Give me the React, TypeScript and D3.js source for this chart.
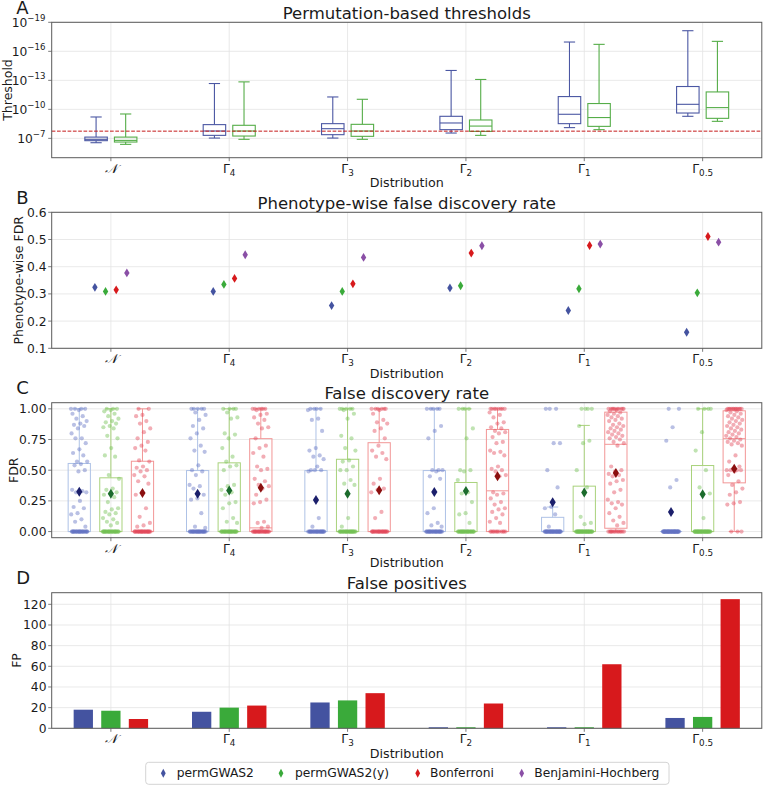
import React from "react";
import * as d3 from "d3";

const W = 763;
const H = 785;
const FONT = "'DejaVu Sans', Verdana, sans-serif";

// ---------- categories / methods ----------
const catBase = ["𝒩", "Γ", "Γ", "Γ", "Γ", "Γ"];
const catSub = ["", "4", "3", "2", "1", "0.5"];
const methods = ["permGWAS2", "permGWAS2(y)", "Bonferroni", "Benjamini-Hochberg"];
const methodColors = ["#4453a0", "#3aaa3a", "#d7191c", "#8a4fa6"];
const boxColorsA = ["#4b57a3", "#55ad48"];
const boxColorsC = ["#aec2e6", "#a9d27c", "#f29696"];
const pointColorsC = ["#6474c4", "#74c254", "#e24a5a"];
const meanColorsC = ["#1b1f6b", "#1b6b2c", "#8b0f0f"];

// ---------- Panel A: permutation thresholds (log10 values) ----------
// order: whisker at smallest value, q1, median, q3, whisker at largest value
const thrPermMin = [-9.21, -12.67, -11.28, -14.02, -16.96, -18.13];
const thrPermQ1 = [-7.13, -8.42, -8.52, -9.28, -11.32, -12.36];
const thrPermMed = [-6.9, -7.76, -8.0, -8.59, -9.49, -10.52];
const thrPermQ3 = [-6.76, -7.31, -7.38, -7.9, -8.52, -9.62];
const thrPermMax = [-6.55, -7.03, -7.03, -7.55, -8.11, -9.28];

const thrPermYMin = [-9.52, -12.84, -11.04, -13.09, -16.72, -17.03];
const thrPermYQ1 = [-7.13, -8.35, -8.45, -8.9, -10.6, -11.8];
const thrPermYMed = [-6.79, -7.76, -7.76, -8.27, -9.15, -10.18];
const thrPermYQ3 = [-6.62, -7.24, -7.21, -7.72, -8.24, -9.07];
const thrPermYMax = [-6.38, -6.9, -6.9, -7.31, -7.9, -8.76];

const bonferroniThreshold = 1.8e-8;
const thrTickExps = [-19, -16, -13, -10, -7];

// ---------- Panel B: phenotype-wise FDR ----------
const pwFdrPerm = [0.324, 0.309, 0.257, 0.322, 0.239, 0.159];
const pwFdrPermY = [0.309, 0.335, 0.309, 0.33, 0.319, 0.304];
const pwFdrBonf = [0.315, 0.357, 0.337, 0.45, 0.478, 0.511];
const pwFdrBH = [0.377, 0.444, 0.434, 0.477, 0.483, 0.49];
const bTicks = [0.1, 0.2, 0.3, 0.4, 0.5, 0.6];

// ---------- Panel C: FDR per phenotype ----------
// box stats: q1, median, q3, lower whisker, upper whisker
const fdrPermQ1 = [0, 0, 0, 0, 0, 0];
const fdrPermMed = [0, 0, 0, 0, 0, 0];
const fdrPermQ3 = [0.555, 0.497, 0.497, 0.497, 0.116, 0];
const fdrPermLo = [0, 0, 0, 0, 0, 0];
const fdrPermHi = [1, 1, 1, 1, 0.2, 0];

const fdrPermYQ1 = [0, 0, 0, 0, 0, 0];
const fdrPermYMed = [0, 0, 0, 0, 0, 0];
const fdrPermYQ3 = [0.438, 0.56, 0.589, 0.4, 0.37, 0.538];
const fdrPermYLo = [0, 0, 0, 0, 0, 0];
const fdrPermYHi = [1, 1, 1, 1, 0.865, 1];

const fdrBonfQ1 = [0, 0, 0, 0, 0.027, 0.397];
const fdrBonfMed = [0, 0.03, 0, 0.332, 0.711, 0.757];
const fdrBonfQ3 = [0.573, 0.757, 0.724, 0.832, 0.973, 0.984];
const fdrBonfLo = [0, 0, 0, 0, 0, 0];
const fdrBonfHi = [1, 1, 1, 1, 1, 1];

// per-phenotype FDR points
const fdrPtsPermN = [1, 1, 1, 1, 0.99, 0.96, 0.94, 0.92, 0.9, 0.88, 0.87, 0.86, 0.84, 0.8, 0.76, 0.76, 0.72, 0.67, 0.64, 0.62, 0.57, 0.57, 0.55, 0.54, 0.5, 0.49, 0.34, 0.33, 0.32, 0.32, 0.25, 0.2, 0.19, 0.15, 0.14, 0.1, 0.08, 0.04, 0, 0, 0, 0, 0, 0, 0, 0, 0, 0, 0, 0, 0, 0, 0, 0, 0, 0, 0, 0, 0, 0, 0, 0, 0, 0, 0, 0];
const fdrPtsPermYN = [1, 1, 1, 0.99, 0.98, 0.96, 0.94, 0.92, 0.9, 0.89, 0.88, 0.86, 0.85, 0.84, 0.78, 0.76, 0.68, 0.62, 0.61, 0.46, 0.43, 0.35, 0.34, 0.32, 0.31, 0.3, 0.28, 0.24, 0.19, 0.18, 0.16, 0.15, 0.14, 0.11, 0.1, 0.08, 0.07, 0.05, 0, 0, 0, 0, 0, 0, 0, 0, 0, 0, 0, 0, 0, 0, 0, 0, 0, 0, 0, 0, 0, 0, 0, 0, 0, 0, 0, 0, 0, 0];
const fdrPtsBonfN = [1, 1, 0.95, 0.94, 0.9, 0.88, 0.84, 0.81, 0.76, 0.73, 0.7, 0.68, 0.66, 0.58, 0.57, 0.53, 0.52, 0.5, 0.49, 0.46, 0.45, 0.41, 0.39, 0.32, 0.3, 0.19, 0.12, 0.07, 0.05, 0.04, 0, 0, 0, 0, 0, 0, 0, 0, 0, 0, 0, 0, 0, 0, 0, 0, 0, 0, 0, 0, 0, 0, 0, 0, 0, 0, 0, 0];

const fdrPtsPermG4 = [1, 1, 1, 1, 1, 0.97, 0.95, 0.91, 0.86, 0.84, 0.8, 0.76, 0.7, 0.66, 0.65, 0.54, 0.5, 0.49, 0.46, 0.38, 0.37, 0.35, 0.3, 0.27, 0.26, 0.15, 0.04, 0.03, 0, 0, 0, 0, 0, 0, 0, 0, 0, 0, 0, 0, 0, 0, 0, 0, 0, 0, 0, 0, 0, 0, 0, 0, 0, 0, 0, 0, 0, 0];
const fdrPtsPermYG4 = [1, 1, 1, 1, 0.97, 0.93, 0.92, 0.8, 0.79, 0.76, 0.68, 0.61, 0.57, 0.54, 0.53, 0.5, 0.38, 0.37, 0.34, 0.32, 0.3, 0.24, 0.23, 0.19, 0.11, 0.08, 0.07, 0, 0, 0, 0, 0, 0, 0, 0, 0, 0, 0, 0, 0, 0, 0, 0, 0, 0, 0, 0, 0, 0, 0, 0, 0, 0, 0, 0, 0, 0];
const fdrPtsBonfG4 = [1, 1, 1, 1, 1, 1, 0.99, 0.96, 0.95, 0.93, 0.91, 0.88, 0.85, 0.84, 0.76, 0.7, 0.68, 0.64, 0.61, 0.53, 0.51, 0.5, 0.43, 0.41, 0.38, 0.37, 0.35, 0.3, 0.26, 0.24, 0.23, 0.08, 0.07, 0.04, 0.03, 0, 0, 0, 0, 0, 0, 0, 0, 0, 0, 0, 0, 0, 0, 0, 0, 0, 0, 0, 0, 0, 0, 0, 0, 0];

const fdrPtsPermG3 = [1, 1, 1, 1, 0.99, 0.92, 0.91, 0.82, 0.68, 0.66, 0.62, 0.61, 0.59, 0.53, 0.5, 0.5, 0.5, 0.49, 0.11, 0.04, 0, 0, 0, 0, 0, 0, 0, 0, 0, 0, 0, 0, 0, 0, 0, 0, 0, 0, 0, 0, 0, 0, 0, 0, 0, 0, 0, 0, 0, 0];
const fdrPtsPermYG3 = [1, 1, 1, 1, 1, 0.99, 0.96, 0.92, 0.78, 0.76, 0.68, 0.66, 0.58, 0.57, 0.53, 0.5, 0.5, 0.42, 0.39, 0.38, 0.11, 0.04, 0, 0, 0, 0, 0, 0, 0, 0, 0, 0, 0, 0, 0, 0, 0, 0, 0, 0, 0, 0, 0, 0, 0, 0, 0, 0, 0, 0, 0, 0];
const fdrPtsBonfG3 = [1, 1, 1, 1, 1, 1, 0.99, 0.96, 0.91, 0.89, 0.88, 0.84, 0.82, 0.76, 0.7, 0.66, 0.64, 0.61, 0.59, 0.43, 0.39, 0.35, 0.34, 0.32, 0.16, 0.11, 0, 0, 0, 0, 0, 0, 0, 0, 0, 0, 0, 0, 0, 0, 0, 0, 0, 0, 0, 0, 0, 0, 0, 0, 0];

const fdrPtsPermG2 = [1, 1, 1, 1, 1, 0.86, 0.82, 0.76, 0.5, 0.5, 0.5, 0.49, 0.45, 0.43, 0.19, 0.15, 0.07, 0.05, 0.04, 0, 0, 0, 0, 0, 0, 0, 0, 0, 0, 0, 0, 0, 0, 0, 0, 0, 0, 0, 0, 0, 0, 0, 0, 0, 0, 0, 0, 0];
const fdrPtsPermYG2 = [1, 1, 1, 1, 0.84, 0.76, 0.5, 0.5, 0.49, 0.42, 0.32, 0.31, 0.24, 0.15, 0.14, 0.07, 0, 0, 0, 0, 0, 0, 0, 0, 0, 0, 0, 0, 0, 0, 0, 0, 0, 0, 0, 0, 0, 0, 0, 0, 0, 0, 0, 0, 0, 0];
const fdrPtsBonfG2 = [1, 1, 1, 1, 1, 1, 1, 1, 0.97, 0.95, 0.93, 0.89, 0.88, 0.85, 0.84, 0.82, 0.81, 0.8, 0.77, 0.73, 0.72, 0.66, 0.65, 0.64, 0.62, 0.53, 0.51, 0.5, 0.49, 0.46, 0.45, 0.32, 0.31, 0.3, 0.27, 0.24, 0.22, 0.19, 0.18, 0.16, 0.14, 0.11, 0.08, 0.07, 0, 0, 0, 0, 0, 0, 0, 0, 0, 0, 0, 0];

const fdrPtsPermG1 = [1, 1, 1, 0.72, 0.72, 0.5, 0.36, 0.2, 0.19, 0.14, 0.04, 0, 0, 0, 0, 0, 0, 0, 0, 0, 0, 0, 0, 0, 0, 0, 0, 0, 0, 0, 0, 0, 0, 0, 0, 0, 0, 0, 0, 0, 0, 0, 0, 0, 0, 0, 0, 0, 0, 0, 0];
const fdrPtsPermYG1 = [1, 1, 1, 1, 0.86, 0.74, 0.72, 0.5, 0.36, 0.12, 0.07, 0.06, 0, 0, 0, 0, 0, 0, 0, 0, 0, 0, 0, 0, 0, 0, 0, 0, 0, 0, 0, 0, 0, 0, 0, 0, 0, 0, 0, 0, 0, 0, 0, 0, 0, 0, 0, 0, 0, 0, 0, 0];
const fdrPtsBonfG1 = [1, 1, 1, 1, 1, 1, 1, 1, 1, 1, 0.99, 0.98, 0.97, 0.96, 0.95, 0.94, 0.93, 0.92, 0.91, 0.9, 0.88, 0.87, 0.86, 0.85, 0.84, 0.83, 0.82, 0.81, 0.8, 0.79, 0.78, 0.77, 0.76, 0.75, 0.73, 0.72, 0.7, 0.53, 0.5, 0.49, 0.47, 0.46, 0.45, 0.42, 0.41, 0.39, 0.34, 0.32, 0.26, 0.24, 0.23, 0.22, 0.19, 0.15, 0.12, 0.09, 0.07, 0.05, 0, 0, 0, 0, 0, 0, 0, 0, 0, 0, 0, 0, 0, 0];

const fdrPtsPermG05 = [1, 1, 0.85, 0.74, 0.42, 0.36, 0, 0, 0, 0, 0, 0, 0, 0, 0, 0, 0, 0, 0, 0, 0, 0, 0, 0, 0, 0, 0, 0, 0, 0, 0, 0, 0, 0, 0, 0, 0, 0, 0, 0, 0, 0, 0, 0, 0, 0, 0, 0, 0, 0, 0, 0, 0, 0, 0, 0];
const fdrPtsPermYG05 = [1, 1, 1, 1, 0.81, 0.66, 0.5, 0.36, 0.31, 0.11, 0, 0, 0, 0, 0, 0, 0, 0, 0, 0, 0, 0, 0, 0, 0, 0, 0, 0, 0, 0, 0, 0, 0, 0, 0, 0, 0, 0, 0, 0, 0, 0, 0, 0, 0, 0, 0, 0, 0, 0];
const fdrPtsBonfG05 = [1, 1, 1, 1, 1, 1, 1, 1, 1, 1, 1, 1, 0.99, 0.98, 0.97, 0.96, 0.95, 0.94, 0.93, 0.92, 0.91, 0.9, 0.89, 0.88, 0.87, 0.86, 0.85, 0.84, 0.83, 0.82, 0.81, 0.8, 0.79, 0.78, 0.77, 0.76, 0.75, 0.74, 0.73, 0.72, 0.71, 0.7, 0.62, 0.57, 0.53, 0.51, 0.5, 0.5, 0.5, 0.5, 0.49, 0.46, 0.41, 0.38, 0.35, 0.32, 0.3, 0.24, 0.23, 0.22, 0, 0, 0];

const fdrPtsPerm = [fdrPtsPermN, fdrPtsPermG4, fdrPtsPermG3, fdrPtsPermG2, fdrPtsPermG1, fdrPtsPermG05];
const fdrPtsPermY = [fdrPtsPermYN, fdrPtsPermYG4, fdrPtsPermYG3, fdrPtsPermYG2, fdrPtsPermYG1, fdrPtsPermYG05];
const fdrPtsBonf = [fdrPtsBonfN, fdrPtsBonfG4, fdrPtsBonfG3, fdrPtsBonfG2, fdrPtsBonfG1, fdrPtsBonfG05];
const cTicks = [0, 0.25, 0.5, 0.75, 1.0];

// ---------- Panel D: false positives ----------
const fpPerm = [18, 16, 25, 1, 1, 10];
const fpPermY = [17, 20, 27, 1, 1, 11];
const fpBonf = [9, 22, 34, 24, 62, 125];
const dTicks = [0, 20, 40, 60, 80, 100, 120];

// ---------- layout ----------
const PL = 51.7;
const PR = 761.8;
const PCX = (PL + PR) / 2;
const A = { top: 22.3, bottom: 157.7 };
const B = { top: 212.3, bottom: 348.3 };
const C = { top: 402.7, bottom: 537.7 };
const D = { top: 592.7, bottom: 728.3 };

const xS = d3.scaleLinear().domain([-0.5, 5.5]).range([PL, PR]);
const yA = d3.scaleLog().domain([1e-5, 1e-19]).range([A.bottom, A.top]);
const yB = d3.scaleLinear().domain([0.1, 0.6]).range([B.bottom, B.top]);
const yC = d3.scaleLinear().domain([-0.05, 1.05]).range([C.bottom, C.top]);
const yD = d3.scaleLinear().domain([0, 131.25]).range([D.bottom, D.top]);

const GRID = "#e3e3e3";
const SPINE = "#5a5a5a";
const TXT = "#1a1a1a";

const jitter = (i: number, g: number) => (((i * 0.6180339887 + g * 0.2718) % 1) - 0.5) * 2;

const diamondPath = (w: number, h: number) => `M0,${-h}L${w},0L0,${h}L${-w},0Z`;

function XTickLabel({ i, y }: { i: number; y: number }) {
  const x = xS(i);
  if (!catSub[i]) {
    return (
      <text x={x} y={y} textAnchor="middle" fontSize={13} fontStyle="italic"
        fontFamily="'DejaVu Serif', serif" fill={TXT}>{catBase[i]}</text>
    );
  }
  return (
    <text x={x} y={y} textAnchor="middle" fontSize={12.3} fill={TXT}>
      {catBase[i]}
      <tspan fontSize={8.8} dy={3}>{catSub[i]}</tspan>
    </text>
  );
}

function Panel(props: {
  top: number; bottom: number; letter: string; title: string; ylabel: string; ylabelX: number;
  yTicks: number[]; yScale: (v: number) => number; tickLabel: (v: number, y: number) => React.ReactNode;
  children?: React.ReactNode;
}) {
  const { top, bottom, letter, title, ylabel, ylabelX, yTicks, yScale, tickLabel, children } = props;
  return (
    <g>
      {/* grid */}
      {yTicks.map((t, k) => (
        <line key={"gy" + k} x1={PL} x2={PR} y1={yScale(t)} y2={yScale(t)} stroke={GRID} strokeWidth={0.8} />
      ))}
      {catBase.map((_, i) => (
        <line key={"gx" + i} x1={xS(i)} x2={xS(i)} y1={top} y2={bottom} stroke={GRID} strokeWidth={0.8} />
      ))}
      {children}
      {/* frame */}
      <rect x={PL} y={top} width={PR - PL} height={bottom - top} fill="none" stroke={SPINE} strokeWidth={1} />
      {/* ticks */}
      {yTicks.map((t, k) => (
        <g key={"ty" + k}>
          <line x1={PL - 3.5} x2={PL} y1={yScale(t)} y2={yScale(t)} stroke={SPINE} strokeWidth={0.8} />
          {tickLabel(t, yScale(t))}
        </g>
      ))}
      {catBase.map((_, i) => (
        <g key={"tx" + i}>
          <line x1={xS(i)} x2={xS(i)} y1={bottom} y2={bottom + 3.5} stroke={SPINE} strokeWidth={0.8} />
          <XTickLabel i={i} y={bottom + 15} />
        </g>
      ))}
      <text x={PCX} y={bottom + 29.5} textAnchor="middle" fontSize={12.7} fill={TXT}>Distribution</text>
      <text transform={`translate(${ylabelX},${(top + bottom) / 2}) rotate(-90)`} textAnchor="middle"
        fontSize={12.5} fill={TXT}>{ylabel}</text>
      <text x={PCX} y={top - 3.8} textAnchor="middle" fontSize={16.5} fill={TXT}>{title}</text>
      <text x={16.3} y={top - 8.7} fontSize={18} fill={TXT}>{letter}</text>
    </g>
  );
}

const linTick = (fmt: (v: number) => string) => (v: number, y: number) => (
  <text x={46.5} y={y + 4.4} textAnchor="end" fontSize={12.3} fill={TXT}>{fmt(v)}</text>
);

const logTick = (v: number, y: number) => (
  <text x={45.5} y={y + 4.5} textAnchor="end" fontSize={12.3} fill={TXT}>
    10<tspan fontSize={8.6} dy={-5.5}>{"\u2212" + Math.abs(Math.round(Math.log10(v)))}</tspan>
  </text>
);

function PanelA() {
  const groups = [
    { off: -0.125, col: boxColorsA[0], lo: thrPermMin, q1: thrPermQ1, med: thrPermMed, q3: thrPermQ3, hi: thrPermMax },
    { off: 0.125, col: boxColorsA[1], lo: thrPermYMin, q1: thrPermYQ1, med: thrPermYMed, q3: thrPermYQ3, hi: thrPermYMax },
  ];
  const hw = (xS(0.095) - xS(0));
  const cw = hw / 2;
  const p = (e: number) => yA(Math.pow(10, e));
  return (
    <Panel top={A.top} bottom={A.bottom} letter="A" title="Permutation-based thresholds" ylabel="Threshold"
      ylabelX={11.7} yTicks={thrTickExps.map((e) => Math.pow(10, e))} yScale={yA} tickLabel={logTick}>
      {groups.map((g, gi) =>
        catBase.map((_, i) => {
          const cx = xS(i + g.off);
          const yq1 = p(g.q1[i]);
          const yq3 = p(g.q3[i]);
          return (
            <g key={gi + "-" + i} stroke={g.col} strokeWidth={1.1} fill="none">
              <line x1={cx} x2={cx} y1={p(g.lo[i])} y2={yq1} />
              <line x1={cx} x2={cx} y1={yq3} y2={p(g.hi[i])} />
              <line x1={cx - cw} x2={cx + cw} y1={p(g.lo[i])} y2={p(g.lo[i])} />
              <line x1={cx - cw} x2={cx + cw} y1={p(g.hi[i])} y2={p(g.hi[i])} />
              <rect x={cx - hw} y={Math.min(yq1, yq3)} width={2 * hw} height={Math.abs(yq3 - yq1)} />
              <line x1={cx - hw} x2={cx + hw} y1={p(g.med[i])} y2={p(g.med[i])} />
            </g>
          );
        })
      )}
      <line x1={PL} x2={PR} y1={yA(bonferroniThreshold)} y2={yA(bonferroniThreshold)}
        stroke="#c41a1a" strokeWidth={1} strokeDasharray="3.7,1.6" />
    </Panel>
  );
}

function PanelB() {
  const series = [pwFdrPerm, pwFdrPermY, pwFdrBonf, pwFdrBH];
  const offs = [-0.135, -0.045, 0.045, 0.135];
  return (
    <Panel top={B.top} bottom={B.bottom} letter="B" title="Phenotype-wise false discovery rate"
      ylabel="Phenotype-wise FDR" ylabelX={22.5} yTicks={bTicks} yScale={yB} tickLabel={linTick((v) => v.toFixed(1))}>
      {series.map((s, si) =>
        s.map((v, i) => (
          <path key={si + "-" + i} d={diamondPath(2.7, 4.4)}
            transform={`translate(${xS(i + offs[si])},${yB(v)})`} fill={methodColors[si]} />
        ))
      )}
    </Panel>
  );
}

function PanelC() {
  const groups = [
    { q1: fdrPermQ1, med: fdrPermMed, q3: fdrPermQ3, lo: fdrPermLo, hi: fdrPermHi, pts: fdrPtsPerm, mean: pwFdrPerm },
    { q1: fdrPermYQ1, med: fdrPermYMed, q3: fdrPermYQ3, lo: fdrPermYLo, hi: fdrPermYHi, pts: fdrPtsPermY, mean: pwFdrPermY },
    { q1: fdrBonfQ1, med: fdrBonfMed, q3: fdrBonfQ3, lo: fdrBonfLo, hi: fdrBonfHi, pts: fdrPtsBonf, mean: pwFdrBonf },
  ];
  const offs = [-0.267, 0, 0.267];
  const hw = (xS(0.094) - xS(0));
  const cw = hw / 2;
  return (
    <Panel top={C.top} bottom={C.bottom} letter="C" title="False discovery rate" ylabel="FDR" ylabelX={18.3}
      yTicks={cTicks} yScale={yC} tickLabel={linTick((v) => v.toFixed(2))}>
      {groups.map((g, gi) =>
        catBase.map((_, i) => {
          const cx = xS(i + offs[gi]);
          const col = boxColorsC[gi];
          const yq1 = yC(g.q1[i]);
          const yq3 = yC(g.q3[i]);
          return (
            <g key={"b" + gi + "-" + i} stroke={col} strokeWidth={1} fill="none">
              {g.lo[i] < g.q1[i] && <line x1={cx} x2={cx} y1={yC(g.lo[i])} y2={yq1} />}
              {g.hi[i] > g.q3[i] && <line x1={cx} x2={cx} y1={yq3} y2={yC(g.hi[i])} />}
              {g.hi[i] > g.q3[i] && <line x1={cx - cw} x2={cx + cw} y1={yC(g.hi[i])} y2={yC(g.hi[i])} />}
              <line x1={cx - cw} x2={cx + cw} y1={yC(g.lo[i])} y2={yC(g.lo[i])} />
              <rect x={cx - hw} y={yq3} width={2 * hw} height={Math.max(0, yq1 - yq3)} />
              <line x1={cx - hw} x2={cx + hw} y1={yC(g.med[i])} y2={yC(g.med[i])} />
            </g>
          );
        })
      )}
      {groups.map((g, gi) =>
        g.pts.map((arr, i) =>
          arr.map((v, k) => (
            <circle key={"p" + gi + "-" + i + "-" + k} cx={xS(i + offs[gi] + jitter(k, gi * 6 + i) * 0.07)} cy={yC(v)}
              r={2.1} fill={pointColorsC[gi]} fillOpacity={0.45} />
          ))
        )
      )}
      {groups.map((g, gi) =>
        g.mean.map((v, i) => (
          <path key={"m" + gi + "-" + i} d={diamondPath(3.1, 5)}
            transform={`translate(${xS(i + offs[gi])},${yC(v)})`} fill={meanColorsC[gi]} />
        ))
      )}
    </Panel>
  );
}

function PanelD() {
  const series = [fpPerm, fpPermY, fpBonf];
  const offs = [-0.233, 0, 0.233];
  const bw = xS(0.163) - xS(0);
  return (
    <Panel top={D.top} bottom={D.bottom} letter="D" title="False positives" ylabel="FP" ylabelX={20.7}
      yTicks={dTicks} yScale={yD} tickLabel={linTick((v) => String(v))}>
      {series.map((s, si) =>
        s.map((v, i) => (
          <rect key={si + "-" + i} x={xS(i + offs[si]) - bw / 2} y={yD(v)} width={bw}
            height={yD(0) - yD(v)} fill={methodColors[si]} />
        ))
      )}
    </Panel>
  );
}

function Legend() {
  const markerX = [163.3, 281, 417.7, 521.7];
  const textX = [176.7, 295, 430, 534.3];
  return (
    <g>
      <rect x={145.7} y={762.3} width={523.3} height={22} rx={3} fill="#fff" stroke="#d4d4d4" strokeWidth={1} />
      {methods.map((m, k) => (
        <g key={m}>
          <path d={diamondPath(2.4, 4.5)} transform={`translate(${markerX[k]},773.2)`} fill={methodColors[k]} />
          <text x={textX[k]} y={777.4} fontSize={12.3} fill={TXT}>{m}</text>
        </g>
      ))}
    </g>
  );
}

export default function App() {
  return (
    <svg width={W} height={H} viewBox={`0 0 ${W} ${H}`}
      style={{ position: "absolute", left: 0, top: 0, background: "#fff" }} fontFamily={FONT}>
      <rect x={0} y={0} width={W} height={H} fill="#fff" />
      <PanelA />
      <PanelB />
      <PanelC />
      <PanelD />
      <Legend />
    </svg>
  );
}
